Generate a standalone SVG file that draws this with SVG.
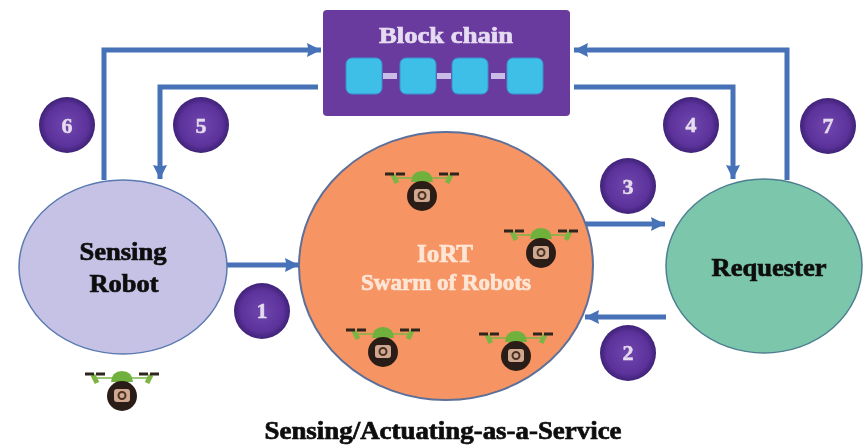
<svg xmlns="http://www.w3.org/2000/svg" width="863" height="446" viewBox="0 0 863 446">
<style>
.c{fill:none;stroke:#4672b8;stroke-width:5}
.t{font-family:"Liberation Serif",serif;font-weight:bold;text-anchor:middle;stroke-width:0.7}
.d{fill:#101010;stroke:#101010}
.w{fill:#fde6d6;stroke:#fde6d6}
.n{font-family:"Liberation Serif",serif;font-weight:bold;font-size:22px;fill:#e6dcef;stroke:#e6dcef;stroke-width:0.5;text-anchor:middle}
.b{fill:url(#ball)}
.q{fill:#3dbfe8;stroke:#3a8fcf;stroke-width:1}
.l{fill:#c9bce6}
</style>
<defs>
<filter id="blur" x="-5%" y="-5%" width="110%" height="110%"><feGaussianBlur stdDeviation="0.7"/></filter>
<radialGradient id="ball" cx="50%" cy="50%" r="50%"><stop offset="0" stop-color="#6f46ad"/><stop offset="0.75" stop-color="#5c329b"/><stop offset="1" stop-color="#3f2378"/></radialGradient>
<marker id="a" markerUnits="userSpaceOnUse" markerWidth="16" markerHeight="16" refX="14" refY="8" orient="auto"><path d="M0 1L14 8L0 15L1.5 8Z" fill="#4672b8"/></marker>
<g id="drone">
<path d="M-29-21L-25-13M29-21L25-13" fill="none" stroke="#7db545" stroke-width="5"/>
<path d="M-27-18H27" fill="none" stroke="#7db545" stroke-width="1.5"/>
<path d="M-11-14Q-10-25 0-25Q10-25 11-14Z" fill="#6fb13c"/>
<path d="M-37-22H-17M17-22H38" stroke="#2e251c" stroke-width="3" stroke-dasharray="9 2"/>
<circle r="15" fill="#2c1f18"/>
<rect x="-8" y="-7" width="16" height="13" rx="3" fill="#d0a890"/>
<circle cy="-0.5" r="3.5" fill="none" stroke="#4a3024" stroke-width="2"/>
</g>
</defs>
<rect width="863" height="446" fill="#fff"/>
<g filter="url(#blur)">
<g id="connectors">
<path class="c" d="M104 180V50H321" marker-end="url(#a)"/>
<path class="c" d="M318 87H160V179" marker-end="url(#a)"/>
<path class="c" d="M574 87H733V179" marker-end="url(#a)"/>
<path class="c" d="M787 180V50H574" marker-end="url(#a)"/>
<path class="c" d="M227 265H299" marker-end="url(#a)"/>
<path class="c" d="M585 224H665" marker-end="url(#a)"/>
<path class="c" d="M666 317H585" marker-end="url(#a)"/>
</g>
<g id="blockchain">
<rect x="323" y="10" width="247" height="106" rx="4" fill="#6a3a9e"/>
<text class="t" x="446" y="43" font-size="24" fill="#e6dcf2" stroke="#e6dcf2" textLength="134" lengthAdjust="spacingAndGlyphs">Block chain</text>
<rect class="l" x="383" y="73" width="14" height="6"/>
<rect class="l" x="437" y="73" width="14" height="6"/>
<rect class="l" x="491" y="73" width="14" height="6"/>
<rect class="q" x="346" y="58" width="36" height="36" rx="6"/>
<rect class="q" x="400" y="58" width="36" height="36" rx="6"/>
<rect class="q" x="452" y="58" width="36" height="36" rx="6"/>
<rect class="q" x="507" y="58" width="36" height="36" rx="6"/>
</g>
<g id="sensing-robot">
<ellipse cx="123" cy="267" rx="104" ry="87" fill="#c6c2e6" stroke="#5a7ab0" stroke-width="1.5"/>
<text class="t d" x="123" y="260" font-size="25" textLength="87" lengthAdjust="spacingAndGlyphs">Sensing</text>
<text class="t d" x="124" y="292" font-size="25" textLength="69" lengthAdjust="spacingAndGlyphs">Robot</text>
</g>
<g id="swarm">
<ellipse cx="446" cy="266" rx="147" ry="134" fill="#f79463" stroke="#5d6f99" stroke-width="2"/>
<text class="t w" x="445" y="262" font-size="25">IoRT</text>
<text class="t w" x="446" y="290" font-size="23">Swarm of Robots</text>
<use href="#drone" x="422" y="196"/>
<use href="#drone" x="541" y="253"/>
<use href="#drone" x="383" y="352"/>
<use href="#drone" x="516" y="356"/>
</g>
<g id="requester">
<ellipse cx="764" cy="266" rx="98" ry="87" fill="#7cc6ab" stroke="#4d7f90" stroke-width="1.5"/>
<text class="t d" x="769" y="276" font-size="25" textLength="115" lengthAdjust="spacingAndGlyphs">Requester</text>
</g>
<g id="drone-free"><use href="#drone" x="122" y="396"/></g>
<g id="badge-1"><circle class="b" cx="262" cy="311" r="28"/><text class="n" x="262" y="318">1</text></g>
<g id="badge-2"><circle class="b" cx="628" cy="353" r="28"/><text class="n" x="628" y="360">2</text></g>
<g id="badge-3"><circle class="b" cx="628" cy="186" r="28"/><text class="n" x="628" y="194">3</text></g>
<g id="badge-4"><circle class="b" cx="691" cy="125" r="28"/><text class="n" x="691" y="132">4</text></g>
<g id="badge-5"><circle class="b" cx="201" cy="125" r="28"/><text class="n" x="201" y="133">5</text></g>
<g id="badge-6"><circle class="b" cx="67" cy="125" r="28"/><text class="n" x="67" y="133">6</text></g>
<g id="badge-7"><circle class="b" cx="828" cy="126" r="28"/><text class="n" x="828" y="133">7</text></g>
<text id="caption" class="t d" x="443" y="439" font-size="25" textLength="357" lengthAdjust="spacingAndGlyphs">Sensing/Actuating-as-a-Service</text>
</g>
</svg>
